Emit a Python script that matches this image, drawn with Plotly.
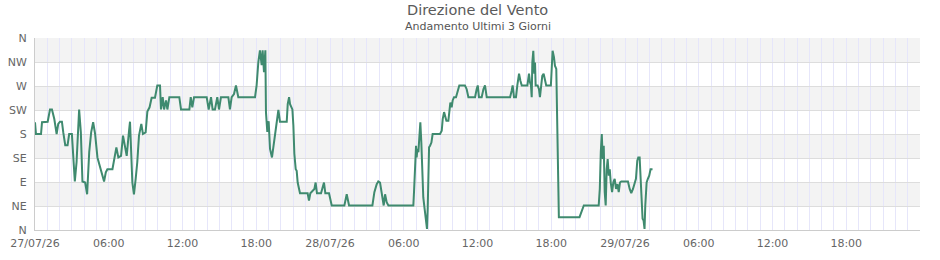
import pandas as pd
import plotly.graph_objects as go

title_text = "Direzione del Vento"
subtitle_text = "Andamento Ultimi 3 Giorni"
start_time = "2026-07-27 00:00"
end_time = "2026-07-30 00:00"

# hours since start
hours = [0.0, 0.08, 0.49, 0.57, 1.03, 1.22, 1.38, 1.57, 1.76, 1.89, 2.03, 2.19, 2.3, 2.46, 2.65, 2.78, 3.0,
         3.11, 3.24, 3.38, 3.51, 3.59, 3.73, 3.86, 4.08, 4.24, 4.41, 4.57, 4.73, 4.89, 5.08, 5.35, 5.62,
         5.76, 5.89, 6.3, 6.43, 6.62, 6.78, 7.0, 7.16, 7.32, 7.46, 7.65, 7.73, 7.92, 8.05, 8.19, 8.32,
         8.46, 8.65, 8.78, 9.0, 9.14, 9.32, 9.49, 9.76, 9.95,
         10.17, 10.25, 10.39, 10.5, 10.66, 10.77, 10.93, 11.74, 11.88, 12.56, 12.67, 12.8, 12.94, 13.97,
         14.13, 14.32, 14.45, 14.64, 14.83, 14.97, 15.13, 15.73, 15.86, 16.0, 16.19, 16.35, 16.54, 17.9,
         18.03, 18.17, 18.3, 18.44, 18.52, 18.63, 18.74, 18.79, 18.9, 19.01, 19.12, 19.28, 19.39, 19.53,
         19.66, 19.8, 19.93, 20.48,
         20.56, 20.67, 20.75, 20.83, 20.94, 21.02, 21.1, 21.21, 21.29, 21.37, 21.48, 21.56, 22.18, 22.29,
         22.4, 22.73, 22.83, 22.94, 23.27, 23.4, 23.51, 23.62, 23.92, 24.14, 25.17, 25.28, 25.36, 25.44,
         25.55, 27.45, 27.61, 27.8, 27.93, 28.07, 28.26, 28.37, 28.48, 28.61, 28.75, 30.78,
         30.84, 30.92, 31.0, 31.05, 31.11, 31.19, 31.27, 31.35, 31.43, 31.51, 31.59, 31.7, 31.81, 31.89,
         31.95, 32.0, 32.06, 32.14, 32.25, 32.35, 32.95, 33.09, 33.17, 33.28, 33.36, 33.47, 33.63, 33.71,
         33.79, 33.9, 33.98, 34.09, 34.25, 34.36, 34.52, 34.98, 35.12, 35.26, 35.8, 35.93, 36.02, 36.12,
         36.34, 36.48, 36.61, 36.75, 38.65, 38.78, 38.86, 38.97, 39.13, 39.24, 39.38, 39.49, 39.6, 40.06,
         40.19, 40.27, 40.35, 40.41, 40.46, 40.54, 40.62, 40.68, 40.73, 40.89, 41.0, 41.08, 41.16, 41.27,
         41.38, 41.49, 41.59, 41.97, 42.03, 42.11, 42.22, 42.3, 42.41, 42.46, 42.54, 42.62, 44.3, 44.46,
         44.65, 45.86, 45.95, 46.03, 46.11, 46.19, 46.27, 46.35, 46.43, 46.51, 46.59, 46.68, 46.76, 46.84,
         46.95, 47.05, 47.16, 47.27, 47.38, 47.49, 47.59, 47.7, 48.24, 48.38, 48.51, 48.65, 48.78, 48.89,
         49.0, 49.08, 49.19, 49.27, 49.38, 49.43, 49.51, 49.59, 49.65, 49.76, 49.86, 49.97, 50.08, 50.24]

# wind direction in degrees
direction = [202, 180, 180, 202, 203, 226, 226, 208, 180, 199, 203, 203, 183, 159, 159, 180, 180,
             133, 91, 127, 202, 226, 183, 91, 89, 67, 146, 183, 202, 180, 136, 114, 91,
             108, 114, 114, 133, 155, 136, 139, 177, 152, 139, 186, 203, 89, 67, 96, 127,
             177, 199, 180, 183, 222, 230, 248, 248, 271,
             271, 226, 249, 226, 243, 226, 249, 249, 226, 226, 249, 230, 249, 249,
             226, 249, 226, 226, 249, 226, 249, 249, 226, 249, 255, 271, 249, 249,
             271, 315, 337, 309, 337, 296, 337, 221, 184, 204, 152, 136, 157, 183,
             203, 225, 203, 203,
             236, 249, 236, 230, 226, 196, 143, 114, 111, 89, 74, 69, 69, 55,
             69, 77, 89, 69, 69, 80, 89, 69, 69, 46, 46, 58, 67, 58,
             46, 46, 71, 86, 91, 89, 64, 46, 67, 52, 46, 46,
             74, 130, 158, 136, 152, 146, 186, 202, 164, 102, 61, 39, 21, 2,
             42, 117, 155, 158, 164, 180, 180, 186, 208, 221, 214, 205, 205, 221,
             239, 230, 243, 249, 249, 258, 271, 271, 264, 249, 249, 264, 271, 249,
             249, 264, 271, 249, 249, 261, 271, 249, 249, 271, 293, 280, 271, 271,
             293, 277, 271, 249, 314, 336, 293, 314, 271, 271, 264, 249, 271, 289,
             293, 283, 271, 271, 302, 336, 324, 308, 302, 227, 91, 24, 24, 36,
             46, 46, 77, 146, 180, 133, 158, 71, 46, 114, 133, 102, 114, 89,
             71, 89, 96, 77, 86, 71, 89, 91, 91, 77, 69, 77, 89, 96,
             130, 136, 136, 89, 58, 21, 18, 2, 46, 89, 96, 102, 114, 114]

y_tick_values = [0, 45, 90, 135, 180, 225, 270, 315, 360]
y_tick_labels = ["N", "NE", "E", "SE", "S", "SW", "W", "NW", "N"]
x_tick_values = ["2026-07-27 00:00", "2026-07-27 06:00", "2026-07-27 12:00", "2026-07-27 18:00",
                 "2026-07-28 00:00", "2026-07-28 06:00", "2026-07-28 12:00", "2026-07-28 18:00",
                 "2026-07-29 00:00", "2026-07-29 06:00", "2026-07-29 12:00", "2026-07-29 18:00"]
x_tick_labels = ["27/07/26", "06:00", "12:00", "18:00", "28/07/26", "06:00", "12:00", "18:00",
                 "29/07/26", "06:00", "12:00", "18:00"]

times = pd.Timestamp(start_time) + pd.to_timedelta(hours, unit="h")

FONT = "DejaVu Sans"
fig = go.Figure()
fig.add_trace(go.Scatter(x=times, y=direction, mode="lines",
                         line=dict(color="#3f8a6f", width=2), hoverinfo="x+y"))

shapes = []
for i in range(len(y_tick_values) - 1):
    if i % 2 == 0:
        continue
    shapes.append(dict(type="rect", xref="paper", yref="y", x0=0, x1=1,
                       y0=y_tick_values[i], y1=y_tick_values[i + 1],
                       fillcolor="#f3f3f3", line=dict(width=0), layer="below"))

fig.update_layout(
    width=940, height=260,
    margin=dict(l=35, r=20, t=38, b=30),
    paper_bgcolor="white", plot_bgcolor="white",
    showlegend=False,
    font=dict(family=FONT, size=11, color="#666666"),
    shapes=shapes,
    annotations=[
        dict(text=title_text, xref="paper", yref="paper", x=0.5, y=1, yshift=28,
             xanchor="center", yanchor="middle", showarrow=False,
             font=dict(family=FONT, size=14.5, color="#5a5a5a")),
        dict(text=subtitle_text, xref="paper", yref="paper", x=0.5, y=1, yshift=12,
             xanchor="center", yanchor="middle", showarrow=False,
             font=dict(family=FONT, size=11, color="#555555")),
    ],
    xaxis=dict(type="date", range=[start_time, end_time],
               tickvals=x_tick_values, ticktext=x_tick_labels,
               showgrid=True, gridcolor="#e6e6fa", gridwidth=1,
               minor=dict(dtick=3600000, showgrid=True, gridcolor="#e6e6fa", gridwidth=1),
               showline=True, linecolor="#cccccc", linewidth=1,
               ticks="", zeroline=False, ticklabelstandoff=3, automargin=False,
               tickfont=dict(family=FONT, size=11, color="#666666")),
    yaxis=dict(range=[0, 360], tickvals=y_tick_values, ticktext=y_tick_labels,
               showgrid=True, gridcolor="#dddddd", gridwidth=1,
               showline=True, linecolor="#cccccc", linewidth=1,
               ticks="", zeroline=False, ticklabelstandoff=5, automargin=False,
               tickfont=dict(family=FONT, size=11, color="#666666")),
)

fig.write_html("out.html")
